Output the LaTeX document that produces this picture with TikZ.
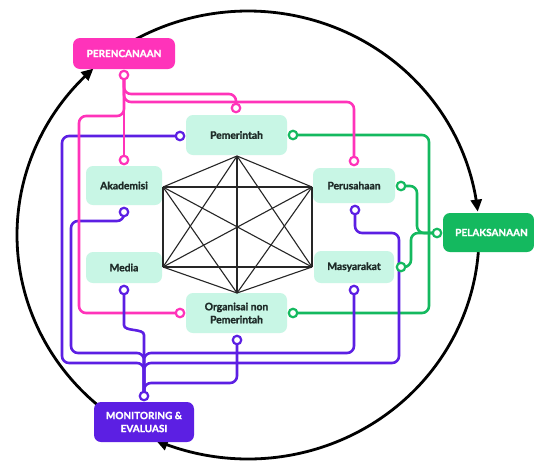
\documentclass[tikz,border=0pt]{standalone}
\usepackage{fontspec}
\setmainfont{Lato}[BoldFont={Lato Bold}, BoldFeatures={FakeBold=1.6}]
\usetikzlibrary{arrows.meta}
\pgfdeclarelayer{back}
\pgfdeclarelayer{bg}
\pgfsetlayers{back,bg,main}

\definecolor{pk}{HTML}{FF33BA}
\definecolor{pu}{HTML}{5C1FE3}
\definecolor{gr}{HTML}{14B95F}
\definecolor{mint}{HTML}{C8F6E5}
\definecolor{ink}{HTML}{1E2B28}

\begin{document}
\begin{tikzpicture}[x=1pt,y=-1pt,
  actor/.style={fill=mint, rounded corners=7pt, text=ink, align=center,
    inner sep=0pt, font=\bfseries\fontsize{10.3}{13}\selectfont},
  phase/.style={fill=#1, rounded corners=7pt, text=white, align=center,
    inner sep=0pt, font=\bfseries\fontsize{10}{13}\selectfont},
  jack/.style={circle, draw=#1, fill=white, line width=2.2pt,
    minimum size=8.5pt, inner sep=0pt},
  wire/.style={draw=#1, line width=2.6pt, rounded corners=7pt},
  kline/.style={line width=1.1pt, draw=black!85},
  loopline/.style={line width=2.8pt, -{Triangle[length=12pt,width=11pt]}}
]
\useasboundingbox (0,0) rectangle (534,461);
\begin{pgfonlayer}{back}
  \fill[white] (0,0) rectangle (534,461);
\end{pgfonlayer}

% phase boxes
\node[phase=pk, minimum width=102pt, minimum height=31pt] (plan) at (124,53.5) {PERENCANAAN};
\node[phase=gr, minimum width=91pt, minimum height=39pt] (exec) at (488.5,232.5) {\hspace*{6pt}PELAKSANAAN};
\node[phase=pu, minimum width=100pt, minimum height=40pt] (moni) at (144,422) {MONITORING \&\\EVALUASI};

% actor boxes
\node[actor, minimum width=101pt, minimum height=40pt] (pem) at (236.5,135) {Pemerintah};
\node[actor, minimum width=76pt, minimum height=39pt] (aka) at (124,185.5) {Akademisi};
\node[actor, minimum width=82pt, minimum height=35pt] (pers) at (354,185.5) {Perusahaan};
\node[actor, minimum width=76pt, minimum height=31pt] (med) at (124,267.5) {Media};
\node[actor, minimum width=80pt, minimum height=32pt] (mas) at (354,267) {Masyarakat};
\node[actor, minimum width=101pt, minimum height=40pt] (org) at (236.5,313) {Organisai non\\Pemerintah};

% hexagon of actors, every pair joined
\coordinate (h1) at (237,156);
\coordinate (h2) at (312,187);
\coordinate (h3) at (312,267);
\coordinate (h4) at (237,293);
\coordinate (h5) at (163,267);
\coordinate (h6) at (163,187);
\foreach \a/\b in {h1/h2,h1/h3,h1/h4,h1/h5,h1/h6,h2/h3,h2/h4,h2/h5,h2/h6,
                   h3/h4,h3/h5,h3/h6,h4/h5,h4/h6,h5/h6}
  \draw[kline] (\a) -- (\b);

% connection jacks
\node[jack=pk] (pPln) at (124,75) {};
\node[jack=pk] (pAka) at (124,160) {};
\node[jack=pk] (pPem) at (236,108) {};
\node[jack=pk] (pPer) at (354,161) {};
\node[jack=pk] (pOrg) at (180,313) {};

\node[jack=pu] (mMon) at (144,396) {};
\node[jack=pu] (mPem) at (180,136) {};
\node[jack=pu] (mAka) at (124,212) {};
\node[jack=pu] (mMed) at (124,290) {};
\node[jack=pu] (mOrg) at (237,340) {};
\node[jack=pu] (mMas) at (354,290) {};
\node[jack=pu] (mPer) at (355,210) {};

\node[jack=gr] (gPel) at (437,233) {};
\node[jack=gr] (gPem) at (293,135) {};
\node[jack=gr] (gOrg) at (293,313) {};
\node[jack=gr] (gPer) at (401,186) {};
\node[jack=gr] (gMas) at (401,267) {};

\begin{pgfonlayer}{bg}
  % cycle between the three phases
  \draw[loopline] plot[domain=240:354, samples=90] ({248+231*cos(\x)},{235+224*sin(\x)});
  \draw[loopline] plot[domain=0:113.5, samples=90] ({248+231*cos(\x)},{235+224*sin(\x)});
  \draw[loopline] plot[domain=128:228, samples=90] ({248+231*cos(\x)},{235+224*sin(\x)});

  % implementation links
  \draw[wire=gr] (gPem.center) -- (429,135) -- (429,313) -- (gOrg.center);
  \draw[wire=gr] (gPer.center) -- (417,186) -- (417,233) -- (gPel.center);
  \draw[wire=gr] (gMas.center) -- (411,267) -- (411,233) -- (gPel.center);

  % monitoring links
  \draw[wire=pu] (mMon.center) -- (144,363) -- (62,363) -- (62,136) -- (mPem.center);
  \draw[wire=pu] (mMon.center) -- (144,353) -- (71,353) -- (71,221) -- (124,221) -- (mAka.center);
  \draw[wire=pu] (mMon.center) -- (144,383) -- (237,383) -- (mOrg.center);
  \draw[wire=pu] (mMon.center) -- (144,353) -- (354,353) -- (mMas.center);
  \draw[wire=pu] (mMon.center) -- (144,363) -- (399,363) -- (399,233) -- (355,233) -- (mPer.center);

  % planning links
  \draw[wire=pk] (pPln.center) -- (pAka.center);
  \draw[wire=pk] (pPln.center) -- (124,94) -- (236,94) -- (pPem.center);
  \draw[wire=pk] (pPln.center) -- (124,102) -- (354,102) -- (pPer.center);
  \draw[wire=pk] (pPln.center) -- (124,116) -- (79,116) -- (79,313) -- (pOrg.center);

  % media to monitoring
  \draw[wire=pu] (mMed.center) -- (124,318) .. controls (124,332) and (144,328) .. (144,342) -- (mMon.center);
\end{pgfonlayer}
\end{tikzpicture}
\end{document}
